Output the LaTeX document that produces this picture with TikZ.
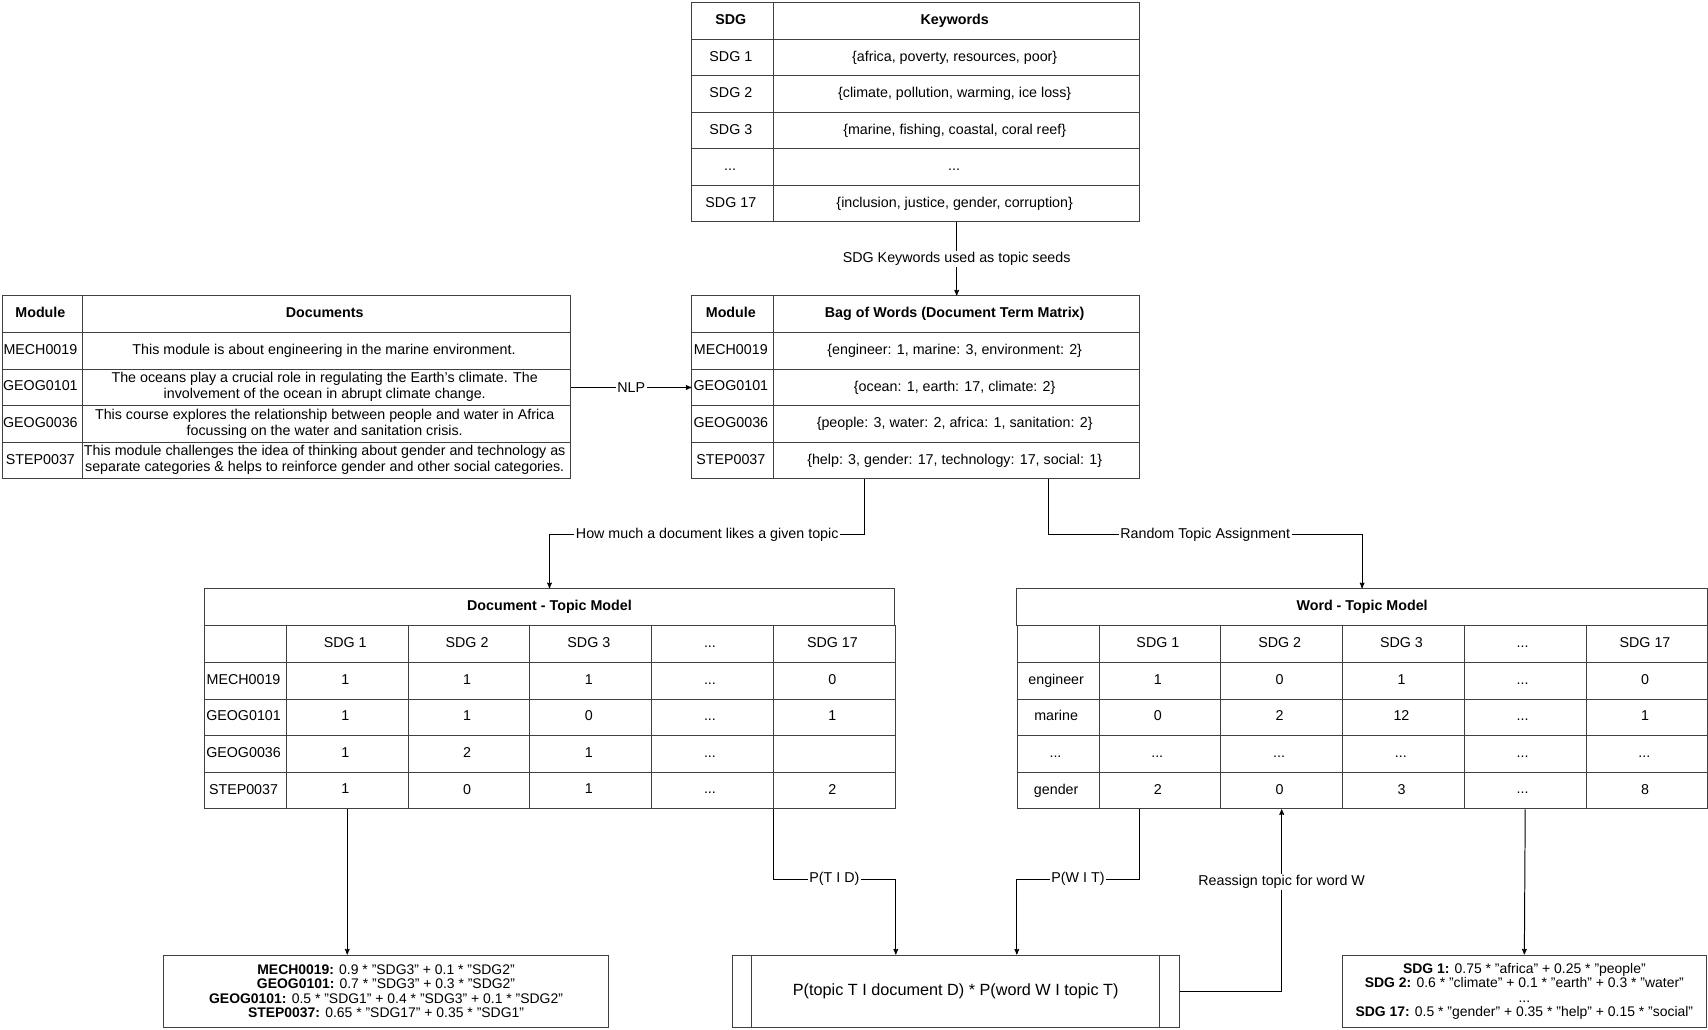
\documentclass[tikz,border=0pt]{standalone}
\usepackage{fontspec}
\setmainfont{Liberation Sans}
\usetikzlibrary{matrix,positioning,calc,arrows}

\newcommand{\twoline}[2]{\begin{tabular}{@{}c@{}}#1\\#2\end{tabular}}

\begin{document}
\begin{tikzpicture}[x=1pt,y=-1pt,>=stealth',line width=0.9pt,
                    font=\fontsize{13.1}{14.4}\selectfont,
                    cell/.style={draw=black!75,anchor=center,minimum height=33.6pt,inner sep=0pt,align=center,
                                 execute at begin node={\vphantom{Ag}}},
                    tbl/.style={matrix of nodes,nodes in empty cells,nodes={cell},
                                column sep=-0.9pt,row sep=-0.9pt,anchor=north west,inner sep=0pt},
                    lbl/.style={fill=white,inner sep=1.5pt},
                    outbox/.style={draw=black!75,align=center,inner sep=0pt,
                                   font=\fontsize{12.8}{13.3}\selectfont}]

  \useasboundingbox (0,0) rectangle (1568,945);

  % keyword seeds
  \matrix (kw) [tbl,nodes={minimum height=33.5pt},
                column 1/.style={nodes={minimum width=75.1pt}},
                column 2/.style={nodes={minimum width=335.9pt}}] at (634.3,1.8) {
    \textbf{SDG} & \textbf{Keywords} \\
    SDG 1  & \{africa, poverty, resources, poor\} \\
    SDG 2  & \{climate, pollution, warming, ice loss\} \\
    SDG 3  & \{marine, fishing, coastal, coral reef\} \\
    ...    & ... \\
    SDG 17 & \{inclusion, justice, gender, corruption\} \\
  };

  % bag of words
  \matrix (bow) [tbl,
                 column 1/.style={nodes={minimum width=75.1pt}},
                 column 2/.style={nodes={minimum width=335.9pt}}] at (634.3,270.8) {
    \textbf{Module} & \textbf{Bag of Words (Document Term Matrix)} \\
    MECH0019 & \{engineer: 1, marine: 3, environment: 2\} \\
    GEOG0101 & \{ocean: 1, earth: 17, climate: 2\} \\
    GEOG0036 & \{people: 3, water: 2, africa: 1, sanitation: 2\} \\
    STEP0037 & \{help: 3, gender: 17, technology: 17, social: 1\} \\
  };

  % documents
  \matrix (docs) [tbl,
                  column 1/.style={nodes={minimum width=74pt}},
                  column 2/.style={nodes={minimum width=448pt}}] at (1,270.8) {
    \textbf{Module} & \textbf{Documents} \\
    MECH0019 & This module is about engineering in the marine environment. \\
    GEOG0101 & \twoline{The oceans play a crucial role in regulating the Earth's climate. The}{involvement of the ocean in abrupt climate change.} \\
    GEOG0036 & \twoline{This course explores the relationship between people and water in Africa}{focussing on the water and sanitation crisis.} \\
    STEP0037 & \twoline{This module challenges the idea of thinking about gender and technology as}{separate categories \& helps to reinforce gender and other social categories.} \\
  };

  % document - topic model
  \node[cell,minimum width=634pt,anchor=north west] (dtmhead) at (187,540) {\textbf{Document - Topic Model}};
  \matrix (dtm) [tbl,nodes={minimum width=111.8pt},
                 column 1/.style={nodes={minimum width=75pt}}] at (187,573.6) {
             & SDG 1 & SDG 2 & SDG 3 & ... & SDG 17 \\
    MECH0019 & 1 & 1 & 1 & ... & 0 \\
    GEOG0101 & 1 & 1 & 0 & ... & 1 \\
    GEOG0036 & 1 & 2 & 1 & ... &   \\
    STEP0037 & 1 & 0 & 1 & ... & 2 \\
  };

  % word - topic model
  \node[cell,minimum width=634pt,anchor=north west] (wtmhead) at (933,540) {\textbf{Word - Topic Model}};
  \matrix (wtm) [tbl,nodes={minimum width=111.8pt},
                 column 1/.style={nodes={minimum width=75pt}}] at (933,573.6) {
             & SDG 1 & SDG 2 & SDG 3 & ... & SDG 17 \\
    engineer & 1 & 0 & 1  & ... & 0 \\
    marine   & 0 & 2 & 12 & ... & 1 \\
    ...      & ... & ... & ... & ... & ... \\
    gender   & 2 & 0 & 3  & ... & 8 \\
  };

  % results
  \node[outbox,minimum width=408.8pt,minimum height=66.8pt] (leftbox) at (354.4,910.1)
    {\textbf{MECH0019:} 0.9 * "SDG3" + 0.1 * "SDG2"\\
     \textbf{GEOG0101:} 0.7 * "SDG3" + 0.3 * "SDG2"\\
     \textbf{GEOG0101:} 0.5 * "SDG1" + 0.4 * "SDG3" + 0.1 * "SDG2"\\
     \textbf{STEP0037:} 0.65 * "SDG17" + 0.35 * "SDG1"};
  \node[outbox,font=\fontsize{14.9}{16}\selectfont,minimum width=410.1pt,minimum height=67pt] (midbox) at (877.35,910.2)
    {P(topic T I document D) * P(word W I topic T)};
  \draw[black!75] ([xshift=17.7pt]midbox.north west) -- ([xshift=17.7pt]midbox.south west);
  \draw[black!75] ([xshift=-18.4pt]midbox.north east) -- ([xshift=-18.4pt]midbox.south east);
  \node[outbox,minimum width=334.8pt,minimum height=67pt] (rightbox) at (1399.4,910.2)
    {\textbf{SDG 1:} 0.75 * "africa" + 0.25 * "people"\\
     \textbf{SDG 2:} 0.6 * "climate" + 0.1 * "earth" + 0.3 * "water"\\
     ...\\
     \textbf{SDG 17:} 0.5 * "gender" + 0.35 * "help" + 0.15 * "social"};

  % connectors
  \draw[->] (kw-6-2.south) -- node[lbl] {SDG Keywords used as topic seeds} (bow-1-2.north);
  \draw[->] (docs-3-2.east) -- node[lbl] {NLP} (bow-3-1.west);
  \draw[->] ($(bow-5-2.south west)!0.25!(bow-5-2.south east)$) -- ++(0,-50.5pt)
    -| node[lbl,pos=0.25] {How much a document likes a given topic} (dtmhead.north);
  \draw[->] ($(bow-5-2.south west)!0.75!(bow-5-2.south east)$) -- ++(0,-50.5pt)
    -| node[lbl,pos=0.25] {Random Topic Assignment} (wtmhead.north);
  \draw[->] (dtm-5-2.south) -- (dtm-5-2.south |- leftbox.north);
  \draw[->] (dtm-5-6.south west) -- ++(0,-64pt)
    -| node[lbl,pos=0.25] {P(T I D)} (midbox.north -| dtm-5-6.south east);
  \draw[->] ([xshift=37.3pt]wtm-5-2.south west) -- ++(0,-64pt)
    -| node[lbl,pos=0.25] {P(W I T)} (midbox.north -| wtm-5-1.south west);
  \draw[->] (midbox.east) -| node[lbl,pos=0.8] {Reassign topic for word W} (wtm-5-3.south);
  \draw[->] (wtm-5-5.south) -- (rightbox.north);
\end{tikzpicture}
\end{document}
